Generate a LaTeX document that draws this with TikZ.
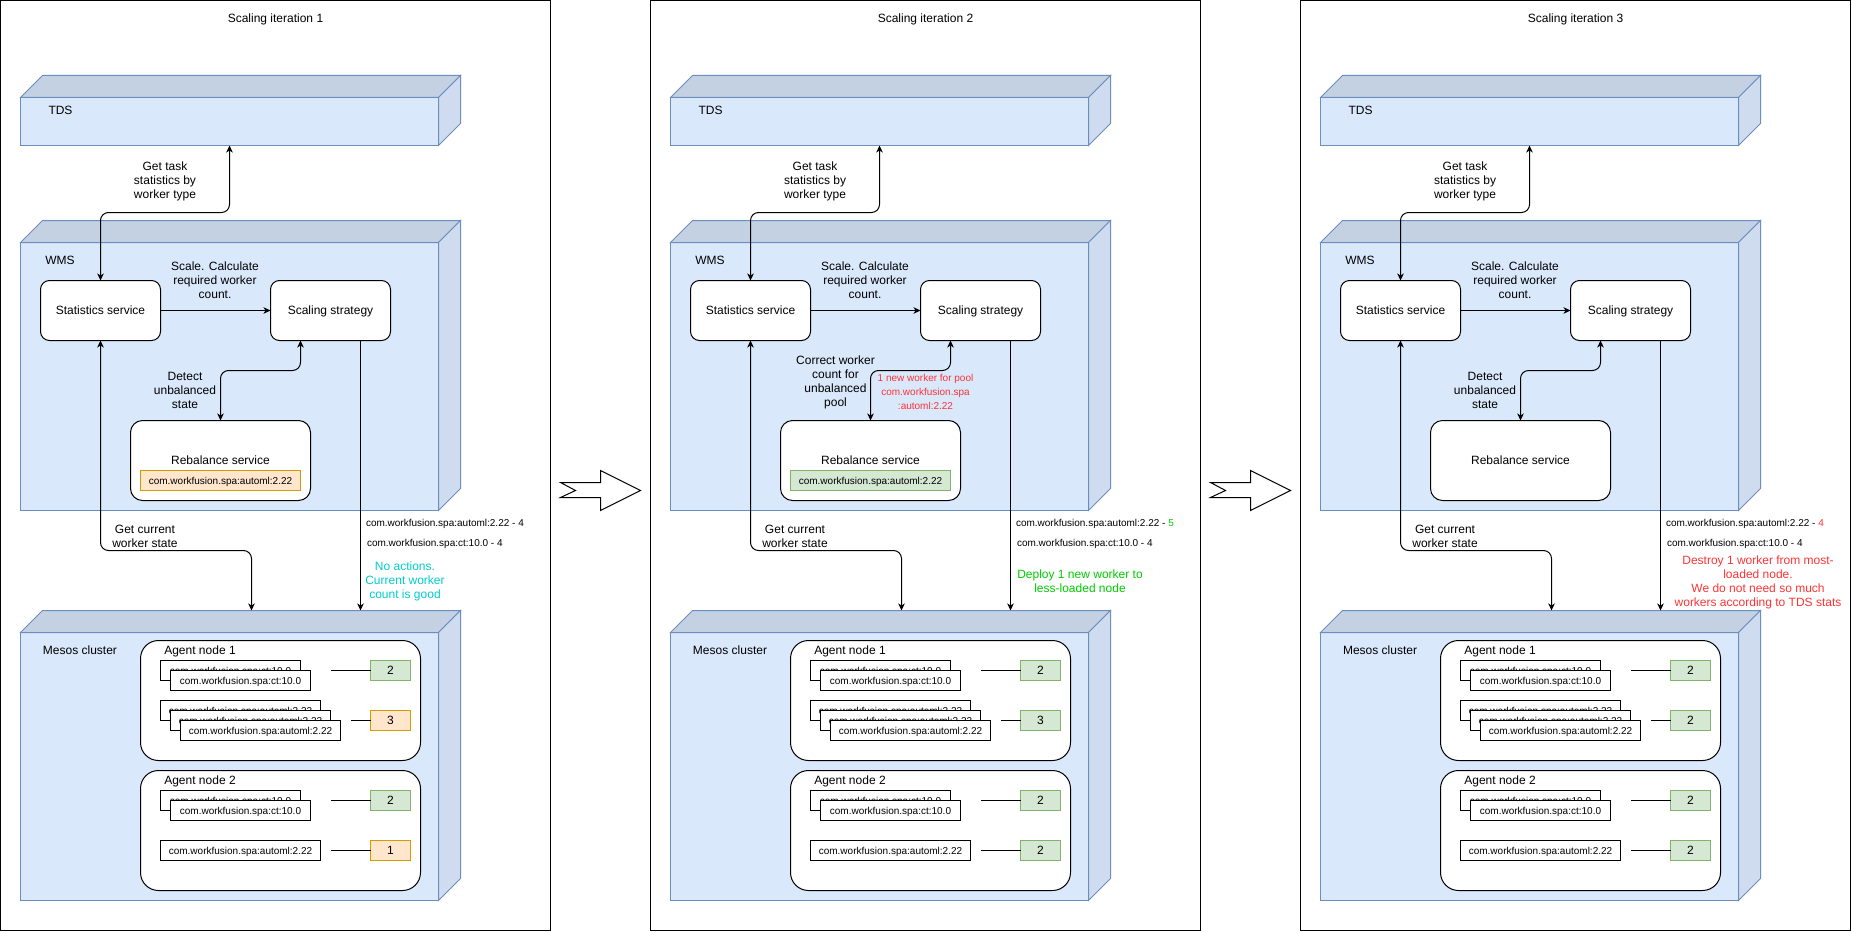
\documentclass[tikz,border=0pt]{standalone}
\usepackage{fontspec}
\setmainfont{Liberation Sans}
\usetikzlibrary{arrows.meta,calc}
\definecolor{bfill}{HTML}{DAE8FC}
\definecolor{bstroke}{HTML}{6C8EBF}
\definecolor{gfill}{HTML}{D5E8D4}
\definecolor{gstroke}{HTML}{82B366}
\definecolor{ofill}{HTML}{FFE6CC}
\definecolor{ostroke}{HTML}{D79B00}
\definecolor{cyantxt}{HTML}{00CCCC}
\definecolor{greentxt}{HTML}{00CC00}
\definecolor{redtxt}{HTML}{FF3333}
\tikzset{
  base/.style={inner sep=0pt, outer sep=0pt, line width=1pt},
  twelve/.style={font=\fontsize{12}{14}\selectfont, text height=11pt, text depth=3pt},
  ten/.style={font=\fontsize{10}{12}\selectfont, text height=9.5pt, text depth=2.5pt},
  face/.style={base, draw=bstroke, fill=bfill, minimum width=418pt},
  frame/.style={base, draw=black, minimum width=550pt, minimum height=930pt},
  lbl/.style={base, twelve, align=center},
  lbltwo/.style={lbl, text height=25pt},
  lblthree/.style={lbl, text height=39pt},
  lblfour/.style={lbl, text height=53pt},
  small/.style={base, ten, anchor=west},
  svc/.style={base, twelve, draw=black, fill=white, rounded corners=9pt, minimum width=120pt, minimum height=60pt},
  rebsvc/.style={base, twelve, draw=black, fill=white, rounded corners=12pt, minimum width=180pt, minimum height=80pt},
  agent/.style={base, draw=black, fill=white, rounded corners=18pt, minimum width=280pt, minimum height=120pt},
  wkr/.style={base, ten, draw=black, fill=white, minimum height=20pt},
  ctbox/.style={wkr, minimum width=140pt},
  amlbox/.style={wkr, minimum width=160pt},
  innerorange/.style={wkr, draw=ostroke, fill=ofill, minimum width=160pt},
  innergreen/.style={wkr, draw=gstroke, fill=gfill, minimum width=160pt},
  cntg/.style={base, twelve, draw=gstroke, fill=gfill, minimum width=40pt, minimum height=20pt},
  cnto/.style={base, twelve, draw=ostroke, fill=ofill, minimum width=40pt, minimum height=20pt},
  plain/.style={line width=1pt},
  conn/.style={line width=1pt, rounded corners=8pt},
  biarrow/.style={conn, {Stealth[length=7pt,width=6.5pt,inset=2pt]}-{Stealth[length=7pt,width=6.5pt,inset=2pt]}},
  onearrow/.style={conn, -{Stealth[length=7pt,width=6.5pt,inset=2pt]}},
  notched/.style={line width=1pt, draw=black, fill=white},
}
\newcommand\cubesides[1]{%
  \filldraw[draw=bstroke, fill=bfill!90!black, line width=1pt] (#1.north west) -- ++(22,-22) -- ($(#1.north east)+(22,-22)$) -- (#1.north east) -- cycle;
  \filldraw[draw=bstroke, fill=bfill!95!black, line width=1pt] (#1.north east) -- ++(22,-22) -- ($(#1.south east)+(22,-22)$) -- (#1.south east) -- cycle;
}
\newcommand\panelcommon[2]{%
  \node[frame] (frame) at (275.5,465.5) {};
  \node[lbl] (title) at (275.5,18.5) {Scaling iteration #1};
  \node[face, minimum height=48pt] (tds) at (229.5,121.5) {};
  \cubesides{tds}
  \node[lbl] (tdsname) at (60.5,110.5) {TDS};
  \node[face, minimum height=268pt] (wms) at (229.5,376.5) {};
  \cubesides{wms}
  \node[lbl] (wmsname) at (60,260.5) {WMS};
  \node[face, minimum height=268pt] (mesos) at (229.5,766.5) {};
  \cubesides{mesos}
  \node[lbl] (mesosname) at (80,650.5) {Mesos cluster};
  \node[svc] (stats) at (100.5,310.5) {Statistics service};
  \node[svc] (scal) at (330.5,310.5) {Scaling strategy};
  \node[rebsvc] (reb) at (220.5,460.5) {Rebalance service};
  \node[agent] (ag1) at (280.5,700.5) {};
  \node[lbl] (ag1name) at (200,650.5) {Agent node 1};
  \node[ctbox] (ct1a) at (230.5,670.5) {com.workfusion.spa:ct:10.0};
  \node[ctbox] (ct1b) at (240.5,680.5) {com.workfusion.spa:ct:10.0};
  \node[amlbox] (am1a) at (240.5,710.5) {com.workfusion.spa:automl:2.22};
  \node[amlbox] (am1b) at (250.5,720.5) {com.workfusion.spa:automl:2.22};
  \node[amlbox] (am1c) at (260.5,730.5) {com.workfusion.spa:automl:2.22};
  \node[agent] (ag2) at (280.5,830.5) {};
  \node[lbl] (ag2name) at (200,780.5) {Agent node 2};
  \node[ctbox] (ct2a) at (230.5,800.5) {com.workfusion.spa:ct:10.0};
  \node[ctbox] (ct2b) at (240.5,810.5) {com.workfusion.spa:ct:10.0};
  \node[amlbox] (am2) at (240.5,850.5) {com.workfusion.spa:automl:2.22};
  \coordinate (tdsbend) at (229.5,212.5);
  \draw[biarrow] (tds.south) -- (tdsbend) -| (stats.north);
  \node[lblthree] (tdslbl) at (165,180.7) {Get task\\statistics by\\worker type};
  \draw[onearrow] (stats.east) -- (scal.west);
  \node[lblthree] (scalelbl) at (215,280.7) {Scale. Calculate\\required worker\\count.};
  \coordinate (detbend) at (300.5,370.5);
  \draw[biarrow] (scal.south -| detbend) -- (detbend) -| (reb.north);
  \coordinate (gcbend) at (100.5,550.5);
  \coordinate (mtop1) at (251.5,610.5);
  \draw[biarrow] (stats.south) -- (gcbend) -| (mtop1);
  \node[lbltwo] (gclbl) at (145,536) {Get current\\worker state};
  \coordinate (mtop2) at (360.5,610.5);
  \draw[onearrow] (scal.south -| mtop2) -- (mtop2);
  \node[small] (sumaml) at (366,522.5) {com.workfusion.spa:automl:2.22 - #2};
  \node[small] (sumct) at (367,542.5) {com.workfusion.spa:ct:10.0 - 4};
}
\newcommand\counts[8]{%
  \node[#1] (cnt1) at (390.5,670.5) {#2};
  \node[#3] (cnt2) at (390.5,720.5) {#4};
  \node[#5] (cnt3) at (390.5,800.5) {#6};
  \node[#7] (cnt4) at (390.5,850.5) {#8};
  \draw[plain] (cnt1.west) -- ++(-40,0);
  \draw[plain] (cnt2.west) -- ++(-20,0);
  \draw[plain] (cnt3.west) -- ++(-40,0);
  \draw[plain] (cnt4.west) -- ++(-40,0);
}
\begin{document}
\begin{tikzpicture}[x=1pt, y=-1pt]
\useasboundingbox (0,0) rectangle (1851,931);
% ---------- iteration 1
\begin{scope}[name prefix=p1-]
  \panelcommon{1}{4}
  \node[innerorange] (rebw) at (220.5,480.5) {com.workfusion.spa:automl:2.22};
  \node[lblthree] (detlbl) at (185,390.7) {Detect\\unbalanced\\state};
  \node[lblthree, text=cyantxt] (act) at (405,580.7) {No actions.\\Current worker\\count is good};
  \counts{cntg}{2}{cnto}{3}{cntg}{2}{cnto}{1}
\end{scope}
% ---------- iteration 2
\begin{scope}[shift={(650,0)}, name prefix=p2-]
  \panelcommon{2}{\textcolor{greentxt}{5}}
  \node[innergreen] (rebw) at (220.5,480.5) {com.workfusion.spa:automl:2.22};
  \node[lblfour] (detlbl) at (185.5,381) {Correct worker\\count for\\unbalanced\\pool};
  \node[base, align=center, text=redtxt, font=\fontsize{10}{13.7}\selectfont, text height=36.9pt, text depth=2.5pt] (redlbl) at (275.5,392) {1 new worker for pool\\com.workfusion.spa\\:automl:2.22};
  \node[lbltwo, text=greentxt] (act) at (430,581) {Deploy 1 new worker to\\less-loaded node};
  \counts{cntg}{2}{cntg}{3}{cntg}{2}{cntg}{2}
\end{scope}
% ---------- iteration 3
\begin{scope}[shift={(1300,0)}, name prefix=p3-]
  \panelcommon{3}{\textcolor{redtxt}{4}}
  \node[lblthree] (detlbl) at (185,390.7) {Detect\\unbalanced\\state};
  \node[lblfour, text=redtxt] (act) at (458,581) {Destroy 1 worker from most-\\loaded node.\\We do not need so much\\workers according to TDS stats};
  \counts{cntg}{2}{cntg}{2}{cntg}{2}{cntg}{2}
\end{scope}
% ---------- transition arrows
\draw[notched] (560.5,482.5) -- (600.5,482.5) -- (600.5,470.5) -- (640.5,490.5) -- (600.5,510.5) -- (600.5,497.5) -- (560.5,497.5) -- (575.5,490.5) -- cycle;
\draw[notched] (1210.5,482.5) -- (1250.5,482.5) -- (1250.5,470.5) -- (1290.5,490.5) -- (1250.5,510.5) -- (1250.5,497.5) -- (1210.5,497.5) -- (1225.5,490.5) -- cycle;
\end{tikzpicture}
\end{document}
